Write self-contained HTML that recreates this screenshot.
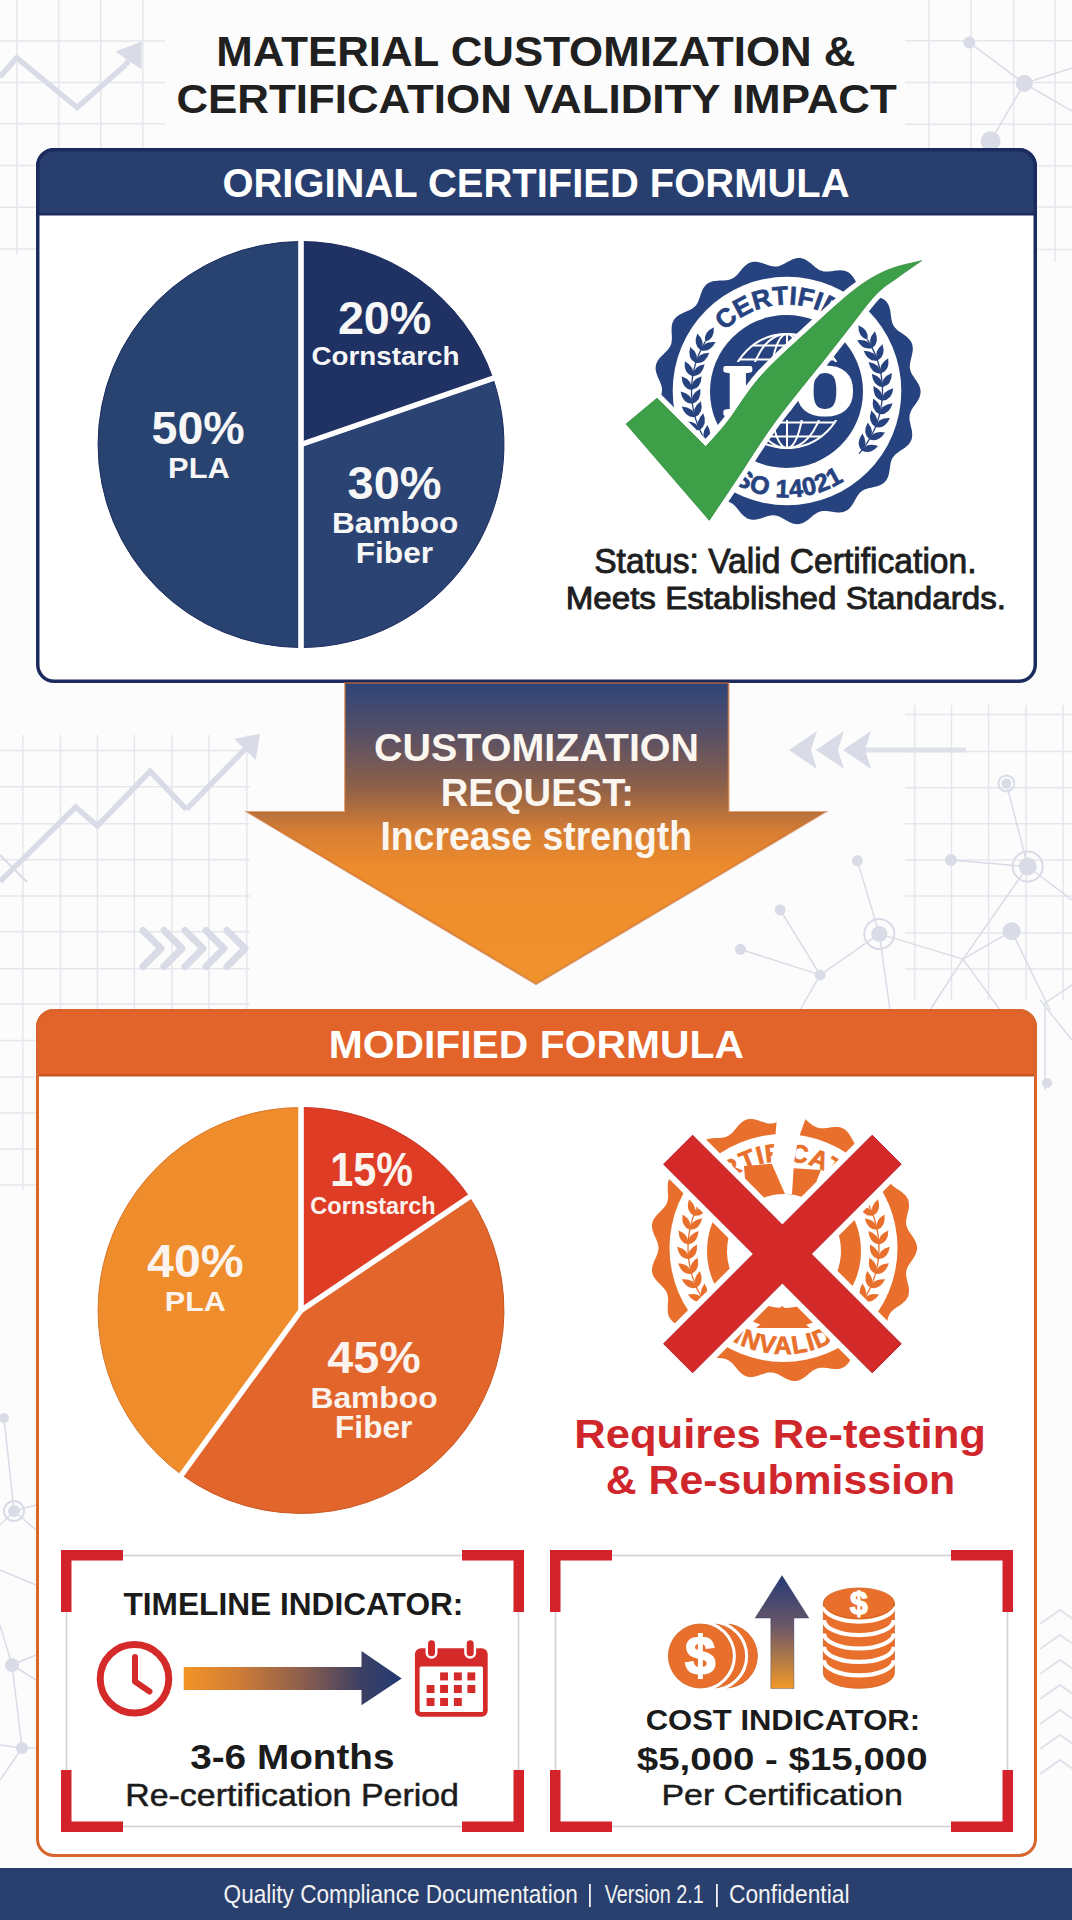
<!DOCTYPE html>
<html><head><meta charset="utf-8"><title>Material Customization &amp; Certification Validity Impact</title>
<style>html,body{margin:0;padding:0;background:#fcfcfc;} body{width:1072px;height:1920px;overflow:hidden;}</style>
</head><body>
<svg width="1072" height="1920" viewBox="0 0 1072 1920" style="display:block;font-family:'Liberation Sans', Arial, sans-serif"><defs>
<linearGradient id="gArrow" x1="0" y1="683" x2="0" y2="984" gradientUnits="userSpaceOnUse">
 <stop offset="0" stop-color="#2e4379"/>
 <stop offset="0.18" stop-color="#5a5164"/>
 <stop offset="0.35" stop-color="#8f6148"/>
 <stop offset="0.50" stop-color="#d97f33"/>
 <stop offset="0.62" stop-color="#ee8c2d"/>
 <stop offset="1" stop-color="#f0922c"/>
</linearGradient>
<linearGradient id="gTime" x1="184" y1="0" x2="402" y2="0" gradientUnits="userSpaceOnUse">
 <stop offset="0" stop-color="#f39426"/>
 <stop offset="0.25" stop-color="#d07c36"/>
 <stop offset="0.55" stop-color="#8a5e4e"/>
 <stop offset="0.8" stop-color="#3f4163"/>
 <stop offset="1" stop-color="#213a74"/>
</linearGradient>
<linearGradient id="gCost" x1="0" y1="1576" x2="0" y2="1689" gradientUnits="userSpaceOnUse">
 <stop offset="0" stop-color="#263a74"/>
 <stop offset="0.45" stop-color="#6c5868"/>
 <stop offset="1" stop-color="#f39a26"/>
</linearGradient>
<clipPath id="cTop"><rect x="36" y="148" width="1001" height="535" rx="18"/></clipPath>
<clipPath id="cBot"><rect x="36" y="1009" width="1001" height="848" rx="18"/></clipPath>
</defs>
<rect width="1072" height="1920" fill="#fcfcfc"/>
<line x1="16.8" y1="0" x2="16.8" y2="255" stroke="#e6e7ee" stroke-width="1.5"/><line x1="58.7" y1="0" x2="58.7" y2="255" stroke="#e6e7ee" stroke-width="1.5"/><line x1="100.7" y1="0" x2="100.7" y2="255" stroke="#e6e7ee" stroke-width="1.5"/><line x1="142.8" y1="0" x2="142.8" y2="255" stroke="#e6e7ee" stroke-width="1.5"/><line x1="0" y1="41" x2="165" y2="41" stroke="#e6e7ee" stroke-width="1.5"/><line x1="0" y1="82.4" x2="165" y2="82.4" stroke="#e6e7ee" stroke-width="1.5"/><line x1="0" y1="123.8" x2="165" y2="123.8" stroke="#e6e7ee" stroke-width="1.5"/><line x1="0" y1="165.5" x2="165" y2="165.5" stroke="#e6e7ee" stroke-width="1.5"/><line x1="0" y1="207.2" x2="165" y2="207.2" stroke="#e6e7ee" stroke-width="1.5"/><line x1="0" y1="249" x2="165" y2="249" stroke="#e6e7ee" stroke-width="1.5"/><polyline points="0,77 16.8,57.8 77.2,107.5 125.4,65" fill="none" stroke="#d9dce6" stroke-width="5.5" stroke-linejoin="miter"/><line x1="125.4" y1="65" x2="128.5" y2="60.5" stroke="#d9dce6" stroke-width="5.5"/><path d="M141.5,41.4 L141.5,69.4 L115.5,51.6 Z" fill="#d9dce6"/><line x1="928.9" y1="0" x2="928.9" y2="262" stroke="#e6e7ee" stroke-width="1.5"/><line x1="971.1" y1="0" x2="971.1" y2="262" stroke="#e6e7ee" stroke-width="1.5"/><line x1="1013.6" y1="0" x2="1013.6" y2="262" stroke="#e6e7ee" stroke-width="1.5"/><line x1="1055" y1="0" x2="1055" y2="262" stroke="#e6e7ee" stroke-width="1.5"/><line x1="905" y1="40.8" x2="1072" y2="40.8" stroke="#e6e7ee" stroke-width="1.5"/><line x1="905" y1="82.4" x2="1072" y2="82.4" stroke="#e6e7ee" stroke-width="1.5"/><line x1="905" y1="124.2" x2="1072" y2="124.2" stroke="#e6e7ee" stroke-width="1.5"/><line x1="905" y1="165.7" x2="1072" y2="165.7" stroke="#e6e7ee" stroke-width="1.5"/><line x1="905" y1="207.1" x2="1072" y2="207.1" stroke="#e6e7ee" stroke-width="1.5"/><line x1="905" y1="249.5" x2="1072" y2="249.5" stroke="#e6e7ee" stroke-width="1.5"/><line x1="969.3" y1="42.5" x2="1024.3" y2="83.4" stroke="#d9dce6" stroke-width="1.5"/><line x1="1024.3" y1="83.4" x2="1072" y2="68" stroke="#d9dce6" stroke-width="1.5"/><line x1="1024.3" y1="83.4" x2="1072" y2="111" stroke="#d9dce6" stroke-width="1.5"/><line x1="1024.3" y1="83.4" x2="990.6" y2="141.2" stroke="#d9dce6" stroke-width="1.5"/><circle cx="969.3" cy="42.5" r="6" fill="#d9dce6"/><circle cx="1024.3" cy="83.4" r="8.5" fill="#d9dce6"/><circle cx="990.6" cy="141.2" r="10" fill="#d9dce6"/><line x1="22.8" y1="735" x2="22.8" y2="1190" stroke="#e6e7ee" stroke-width="1.5"/><line x1="60.4" y1="735" x2="60.4" y2="1190" stroke="#e6e7ee" stroke-width="1.5"/><line x1="97.4" y1="735" x2="97.4" y2="1190" stroke="#e6e7ee" stroke-width="1.5"/><line x1="134.3" y1="735" x2="134.3" y2="1190" stroke="#e6e7ee" stroke-width="1.5"/><line x1="171.9" y1="735" x2="171.9" y2="1190" stroke="#e6e7ee" stroke-width="1.5"/><line x1="208.9" y1="735" x2="208.9" y2="1190" stroke="#e6e7ee" stroke-width="1.5"/><line x1="246.8" y1="735" x2="246.8" y2="1190" stroke="#e6e7ee" stroke-width="1.5"/><line x1="0" y1="750.5" x2="250" y2="750.5" stroke="#e6e7ee" stroke-width="1.5"/><line x1="0" y1="786.8" x2="250" y2="786.8" stroke="#e6e7ee" stroke-width="1.5"/><line x1="0" y1="823.7" x2="250" y2="823.7" stroke="#e6e7ee" stroke-width="1.5"/><line x1="0" y1="859.7" x2="250" y2="859.7" stroke="#e6e7ee" stroke-width="1.5"/><line x1="0" y1="895.9" x2="250" y2="895.9" stroke="#e6e7ee" stroke-width="1.5"/><line x1="0" y1="931.8" x2="250" y2="931.8" stroke="#e6e7ee" stroke-width="1.5"/><line x1="0" y1="968.8" x2="250" y2="968.8" stroke="#e6e7ee" stroke-width="1.5"/><line x1="0" y1="1004" x2="250" y2="1004" stroke="#e6e7ee" stroke-width="1.5"/><line x1="0" y1="1040.6" x2="250" y2="1040.6" stroke="#e6e7ee" stroke-width="1.5"/><line x1="0" y1="1077" x2="250" y2="1077" stroke="#e6e7ee" stroke-width="1.5"/><line x1="0" y1="1113" x2="250" y2="1113" stroke="#e6e7ee" stroke-width="1.5"/><line x1="0" y1="1149" x2="250" y2="1149" stroke="#e6e7ee" stroke-width="1.5"/><line x1="0" y1="1185" x2="250" y2="1185" stroke="#e6e7ee" stroke-width="1.5"/><polyline points="0,881.5 75.6,807 97.4,826 150.1,771.3 186.4,809.3" fill="none" stroke="#d9dce6" stroke-width="5.5" stroke-linejoin="miter"/><line x1="186.4" y1="809.3" x2="244.8" y2="749.4" stroke="#d9dce6" stroke-width="5.5"/><path d="M260.2,733.7 L255.6,759.9 L234.1,739.0 Z" fill="#d9dce6"/><line x1="0" y1="855" x2="27" y2="882" stroke="#d9dce6" stroke-width="2"/><polyline points="143,930.5 161.0,948.5 143,966.5" fill="none" stroke="#d9dce6" stroke-width="7" stroke-linecap="round" stroke-linejoin="round"/><polyline points="164,930.5 182.0,948.5 164,966.5" fill="none" stroke="#d9dce6" stroke-width="7" stroke-linecap="round" stroke-linejoin="round"/><polyline points="185,930.5 203.0,948.5 185,966.5" fill="none" stroke="#d9dce6" stroke-width="7" stroke-linecap="round" stroke-linejoin="round"/><polyline points="206,930.5 224.0,948.5 206,966.5" fill="none" stroke="#d9dce6" stroke-width="7" stroke-linecap="round" stroke-linejoin="round"/><polyline points="227,930.5 245.0,948.5 227,966.5" fill="none" stroke="#d9dce6" stroke-width="7" stroke-linecap="round" stroke-linejoin="round"/><line x1="914.7" y1="705" x2="914.7" y2="1000" stroke="#e6e7ee" stroke-width="1.5"/><line x1="951.5" y1="705" x2="951.5" y2="1000" stroke="#e6e7ee" stroke-width="1.5"/><line x1="988.6" y1="705" x2="988.6" y2="1000" stroke="#e6e7ee" stroke-width="1.5"/><line x1="1026" y1="705" x2="1026" y2="1000" stroke="#e6e7ee" stroke-width="1.5"/><line x1="1063.2" y1="705" x2="1063.2" y2="1000" stroke="#e6e7ee" stroke-width="1.5"/><line x1="905" y1="714.5" x2="1072" y2="714.5" stroke="#e6e7ee" stroke-width="1.5"/><line x1="905" y1="751.6" x2="1072" y2="751.6" stroke="#e6e7ee" stroke-width="1.5"/><line x1="905" y1="787.7" x2="1072" y2="787.7" stroke="#e6e7ee" stroke-width="1.5"/><line x1="905" y1="823.8" x2="1072" y2="823.8" stroke="#e6e7ee" stroke-width="1.5"/><line x1="905" y1="860" x2="1072" y2="860" stroke="#e6e7ee" stroke-width="1.5"/><line x1="905" y1="896" x2="1072" y2="896" stroke="#e6e7ee" stroke-width="1.5"/><line x1="905" y1="932.9" x2="1072" y2="932.9" stroke="#e6e7ee" stroke-width="1.5"/><line x1="905" y1="969" x2="1072" y2="969" stroke="#e6e7ee" stroke-width="1.5"/><line x1="860" y1="750" x2="966" y2="750" stroke="#dfe1e8" stroke-width="5"/><path d="M789,750 L817,731 L811,750 L817,769 Z" fill="#d9dce6"/><path d="M816,750 L844,731 L838,750 L844,769 Z" fill="#d9dce6"/><path d="M843,750 L871,731 L865,750 L871,769 Z" fill="#d9dce6"/><line x1="1006.4" y1="783.4" x2="1027.7" y2="866.5" stroke="#d9dce6" stroke-width="1.5"/><line x1="950.9" y1="860" x2="1027.7" y2="866.5" stroke="#d9dce6" stroke-width="1.5"/><line x1="1027.7" y1="866.5" x2="963" y2="959.1" stroke="#d9dce6" stroke-width="1.5"/><line x1="1027.7" y1="866.5" x2="1072" y2="900" stroke="#d9dce6" stroke-width="1.5"/><line x1="857.3" y1="860.6" x2="879.3" y2="933.9" stroke="#d9dce6" stroke-width="1.5"/><line x1="780.1" y1="909.9" x2="820.2" y2="974.9" stroke="#d9dce6" stroke-width="1.5"/><line x1="740.4" y1="949.3" x2="820.2" y2="974.9" stroke="#d9dce6" stroke-width="1.5"/><line x1="820.2" y1="974.9" x2="879.3" y2="933.9" stroke="#d9dce6" stroke-width="1.5"/><line x1="879.3" y1="933.9" x2="963" y2="959.1" stroke="#d9dce6" stroke-width="1.5"/><line x1="1011.6" y1="931.2" x2="963" y2="959.1" stroke="#d9dce6" stroke-width="1.5"/><line x1="963" y1="959.1" x2="1000" y2="1010" stroke="#d9dce6" stroke-width="1.5"/><line x1="879.3" y1="933.9" x2="890" y2="1010" stroke="#d9dce6" stroke-width="1.5"/><line x1="820.2" y1="974.9" x2="800" y2="1010" stroke="#d9dce6" stroke-width="1.5"/><line x1="963" y1="959.1" x2="930" y2="1010" stroke="#d9dce6" stroke-width="1.5"/><line x1="1011.6" y1="931.2" x2="1050" y2="1010" stroke="#d9dce6" stroke-width="1.5"/><circle cx="1006.4" cy="783.4" r="5" fill="#d9dce6"/><circle cx="1006.4" cy="783.4" r="8" fill="none" stroke="#d9dce6" stroke-width="2"/><circle cx="1027.7" cy="866.5" r="9" fill="#d9dce6"/><circle cx="1027.7" cy="866.5" r="15" fill="none" stroke="#d9dce6" stroke-width="2"/><circle cx="950.9" cy="860" r="6" fill="#d9dce6"/><circle cx="879.3" cy="933.9" r="8" fill="#d9dce6"/><circle cx="879.3" cy="933.9" r="15" fill="none" stroke="#d9dce6" stroke-width="2"/><circle cx="857.3" cy="860.6" r="5.5" fill="#d9dce6"/><circle cx="780.1" cy="909.9" r="5.5" fill="#d9dce6"/><circle cx="740.4" cy="949.3" r="5.5" fill="#d9dce6"/><circle cx="820.2" cy="974.9" r="5.5" fill="#d9dce6"/><circle cx="1011.6" cy="931.2" r="9" fill="#d9dce6"/><line x1="1040" y1="1000" x2="1072" y2="1040" stroke="#d9dce6" stroke-width="1.5"/><line x1="1045" y1="1003" x2="1045" y2="1090" stroke="#d9dce6" stroke-width="1.5"/><line x1="1045" y1="1003" x2="1072" y2="985" stroke="#d9dce6" stroke-width="1.5"/><circle cx="1047" cy="1083" r="5" fill="#d9dce6"/><line x1="4" y1="1418" x2="14" y2="1511" stroke="#d9dce6" stroke-width="1.5"/><line x1="14" y1="1511" x2="36" y2="1505" stroke="#d9dce6" stroke-width="1.5"/><line x1="14" y1="1511" x2="36" y2="1530" stroke="#d9dce6" stroke-width="1.5"/><line x1="0" y1="1525" x2="14" y2="1511" stroke="#d9dce6" stroke-width="1.5"/><line x1="0" y1="1570" x2="36" y2="1585" stroke="#d9dce6" stroke-width="1.5"/><line x1="0" y1="1625" x2="12" y2="1665" stroke="#d9dce6" stroke-width="1.5"/><line x1="12" y1="1665" x2="36" y2="1655" stroke="#d9dce6" stroke-width="1.5"/><line x1="12" y1="1665" x2="36" y2="1680" stroke="#d9dce6" stroke-width="1.5"/><line x1="12" y1="1665" x2="22" y2="1748" stroke="#d9dce6" stroke-width="1.5"/><line x1="0" y1="1745" x2="22" y2="1748" stroke="#d9dce6" stroke-width="1.5"/><line x1="22" y1="1748" x2="0" y2="1780" stroke="#d9dce6" stroke-width="1.5"/><line x1="22" y1="1748" x2="36" y2="1748" stroke="#d9dce6" stroke-width="1.5"/><circle cx="4" cy="1418" r="5" fill="#d9dce6"/><circle cx="14" cy="1511" r="6" fill="#d9dce6"/><circle cx="14" cy="1511" r="10" fill="none" stroke="#d9dce6" stroke-width="2"/><circle cx="12" cy="1665" r="7" fill="#d9dce6"/><circle cx="22" cy="1748" r="6" fill="#d9dce6"/><polyline points="1040,1624 1060,1610 1080,1624" fill="none" stroke="#e0e2e9" stroke-width="2"/><polyline points="1040,1649 1060,1635 1080,1649" fill="none" stroke="#e0e2e9" stroke-width="2"/><polyline points="1040,1674 1060,1660 1080,1674" fill="none" stroke="#e0e2e9" stroke-width="2"/><polyline points="1040,1699 1060,1685 1080,1699" fill="none" stroke="#e0e2e9" stroke-width="2"/><polyline points="1040,1724 1060,1710 1080,1724" fill="none" stroke="#e0e2e9" stroke-width="2"/><polyline points="1040,1749 1060,1735 1080,1749" fill="none" stroke="#e0e2e9" stroke-width="2"/><polyline points="1040,1774 1060,1760 1080,1774" fill="none" stroke="#e0e2e9" stroke-width="2"/>
<text x="216.3" y="66.4" font-size="42.04" font-weight="700" textLength="639.1" lengthAdjust="spacingAndGlyphs" fill="#202020" >MATERIAL CUSTOMIZATION &amp;</text>
<text x="176.4" y="112.9" font-size="41.45" font-weight="700" textLength="720.4" lengthAdjust="spacingAndGlyphs" fill="#202020" >CERTIFICATION VALIDITY IMPACT</text>
<g clip-path="url(#cTop)"><rect x="36" y="148" width="1001" height="535" fill="#ffffff"/><rect x="36" y="148" width="1001" height="67" fill="#273e6e"/><rect x="36" y="213" width="1001" height="2.5" fill="#1b2a5a"/></g>
<rect x="37.75" y="149.75" width="997.5" height="531.5" rx="16.5" fill="none" stroke="#1c2b5e" stroke-width="3.5"/>
<text x="222.4" y="197.3" font-size="40.44" font-weight="700" textLength="627.1" lengthAdjust="spacingAndGlyphs" fill="#ffffff" >ORIGINAL CERTIFIED FORMULA</text>
<path d="M301,444.5 L301,647.5 A203,203 0 0 1 301,241.5 Z" fill="#294370" stroke="#1a2a5e" stroke-width="1"/>
<path d="M301,444.5 L301,241.5 A203,203 0 0 1 492.9,378.4 Z" fill="#1f3263" stroke="#1a2a5e" stroke-width="1"/>
<path d="M301,444.5 L492.9,378.4 A203,203 0 0 1 301,647.5 Z" fill="#2a4372" stroke="#1a2a5e" stroke-width="1"/>
<rect x="298.2" y="238.5" width="5.6" height="412" fill="#ffffff"/>
<line x1="301" y1="444.5" x2="495.8" y2="377.4" stroke="#ffffff" stroke-width="5.5"/>
<text x="337.9" y="334" font-size="46.16" font-weight="700" textLength="93.5" lengthAdjust="spacingAndGlyphs" fill="#f7f7f7" >20%</text>
<text x="311.5" y="364.7" font-size="26.62" font-weight="700" textLength="148.0" lengthAdjust="spacingAndGlyphs" fill="#f7f7f7" >Cornstarch</text>
<text x="151.5" y="444.2" font-size="46.45" font-weight="700" textLength="93.2" lengthAdjust="spacingAndGlyphs" fill="#f7f7f7" >50%</text>
<text x="168.1" y="478.4" font-size="29.38" font-weight="700" textLength="61.7" lengthAdjust="spacingAndGlyphs" fill="#f7f7f7" >PLA</text>
<text x="347.6" y="499.1" font-size="46.16" font-weight="700" textLength="93.9" lengthAdjust="spacingAndGlyphs" fill="#f7f7f7" >30%</text>
<text x="331.9" y="533.4" font-size="28.97" font-weight="700" textLength="126.4" lengthAdjust="spacingAndGlyphs" fill="#f7f7f7" >Bamboo</text>
<text x="355.7" y="563.4" font-size="29.93" font-weight="700" textLength="77.4" lengthAdjust="spacingAndGlyphs" fill="#f7f7f7" >Fiber</text>
<path d="M787.0,262.2 L788.1,261.6 L789.3,261.0 L790.4,260.4 L791.6,259.8 L792.7,259.3 L793.9,258.9 L795.1,258.5 L796.3,258.3 L797.5,258.1 L798.6,258.0 L799.8,258.0 L801.0,258.1 L802.1,258.4 L803.2,258.7 L804.4,259.1 L805.5,259.7 L806.5,260.3 L807.6,260.9 L808.6,261.7 L809.7,262.4 L810.7,263.3 L811.7,264.1 L812.6,264.9 L813.6,265.8 L814.6,266.6 L815.5,267.4 L816.5,268.1 L817.5,268.8 L818.4,269.4 L819.4,270.0 L820.4,270.4 L821.5,270.8 L822.5,271.1 L823.6,271.4 L824.7,271.5 L825.8,271.6 L826.9,271.6 L828.1,271.6 L829.3,271.5 L830.6,271.3 L831.8,271.2 L833.1,271.0 L834.4,270.8 L835.6,270.6 L836.9,270.5 L838.2,270.4 L839.5,270.3 L840.7,270.3 L842.0,270.4 L843.2,270.5 L844.4,270.7 L845.5,271.0 L846.6,271.5 L847.7,272.0 L848.7,272.6 L849.6,273.2 L850.5,274.0 L851.4,274.9 L852.2,275.8 L852.9,276.8 L853.7,277.8 L854.3,278.9 L855.0,280.0 L855.6,281.2 L856.2,282.3 L856.8,283.4 L857.4,284.6 L858.1,285.7 L858.7,286.7 L859.3,287.7 L860.0,288.7 L860.7,289.6 L861.5,290.4 L862.3,291.1 L863.1,291.8 L864.0,292.5 L864.9,293.0 L865.9,293.5 L867.0,294.0 L868.1,294.4 L869.2,294.7 L870.4,295.0 L871.6,295.3 L872.9,295.6 L874.1,295.9 L875.4,296.2 L876.7,296.5 L877.9,296.9 L879.1,297.3 L880.3,297.7 L881.5,298.2 L882.6,298.7 L883.6,299.3 L884.6,300.0 L885.5,300.8 L886.3,301.6 L887.0,302.5 L887.7,303.5 L888.3,304.5 L888.8,305.6 L889.2,306.7 L889.6,307.9 L889.9,309.1 L890.2,310.4 L890.4,311.6 L890.6,312.9 L890.8,314.2 L890.9,315.5 L891.1,316.8 L891.3,318.0 L891.4,319.2 L891.7,320.4 L891.9,321.5 L892.3,322.6 L892.6,323.7 L893.1,324.7 L893.6,325.7 L894.2,326.6 L894.8,327.5 L895.6,328.3 L896.4,329.1 L897.2,329.9 L898.1,330.7 L899.1,331.4 L900.1,332.1 L901.2,332.8 L902.2,333.6 L903.3,334.3 L904.4,335.0 L905.4,335.8 L906.4,336.6 L907.4,337.4 L908.3,338.3 L909.1,339.2 L909.9,340.1 L910.6,341.1 L911.2,342.1 L911.7,343.1 L912.1,344.2 L912.4,345.3 L912.6,346.5 L912.8,347.7 L912.8,348.9 L912.8,350.1 L912.6,351.4 L912.4,352.6 L912.2,353.9 L911.9,355.2 L911.6,356.4 L911.3,357.7 L911.0,358.9 L910.7,360.2 L910.4,361.4 L910.2,362.6 L910.0,363.7 L909.9,364.9 L909.8,366.0 L909.8,367.1 L909.9,368.2 L910.1,369.3 L910.4,370.4 L910.7,371.4 L911.1,372.4 L911.6,373.5 L912.2,374.5 L912.8,375.5 L913.5,376.6 L914.2,377.6 L914.9,378.7 L915.7,379.7 L916.4,380.8 L917.1,381.9 L917.8,383.0 L918.4,384.1 L919.0,385.2 L919.5,386.4 L919.9,387.5 L920.2,388.7 L920.4,389.8 L920.6,391.0 L920.6,392.2 L920.5,393.3 L920.3,394.5 L920.0,395.6 L919.7,396.8 L919.2,397.9 L918.7,399.1 L918.1,400.2 L917.4,401.3 L916.7,402.3 L916.0,403.4 L915.2,404.5 L914.5,405.5 L913.7,406.6 L913.0,407.6 L912.4,408.6 L911.7,409.6 L911.2,410.7 L910.7,411.7 L910.3,412.7 L910.0,413.8 L909.7,414.9 L909.5,415.9 L909.5,417.0 L909.5,418.1 L909.5,419.3 L909.7,420.4 L909.8,421.6 L910.1,422.8 L910.4,424.1 L910.6,425.3 L910.9,426.5 L911.2,427.8 L911.5,429.1 L911.8,430.3 L912.0,431.6 L912.1,432.9 L912.2,434.1 L912.2,435.3 L912.1,436.5 L911.9,437.7 L911.7,438.9 L911.3,440.0 L910.8,441.0 L910.3,442.1 L909.6,443.1 L908.9,444.0 L908.1,444.9 L907.2,445.8 L906.2,446.6 L905.2,447.4 L904.2,448.2 L903.1,448.9 L902.1,449.6 L901.0,450.3 L899.9,451.0 L898.9,451.7 L897.9,452.5 L896.9,453.2 L896.0,453.9 L895.1,454.7 L894.4,455.5 L893.7,456.4 L893.0,457.2 L892.4,458.2 L891.9,459.2 L891.5,460.2 L891.1,461.2 L890.8,462.4 L890.6,463.5 L890.3,464.7 L890.1,465.9 L890.0,467.2 L889.8,468.5 L889.6,469.7 L889.4,471.0 L889.2,472.3 L889.0,473.6 L888.7,474.8 L888.3,476.0 L887.9,477.2 L887.4,478.3 L886.8,479.3 L886.2,480.3 L885.5,481.3 L884.7,482.1 L883.8,482.9 L882.9,483.6 L881.9,484.2 L880.8,484.8 L879.7,485.3 L878.5,485.8 L877.3,486.2 L876.1,486.5 L874.8,486.8 L873.6,487.1 L872.3,487.4 L871.0,487.7 L869.8,488.0 L868.6,488.2 L867.4,488.6 L866.3,488.9 L865.2,489.3 L864.2,489.8 L863.2,490.3 L862.2,490.8 L861.4,491.5 L860.5,492.2 L859.7,493.0 L859.0,493.8 L858.3,494.7 L857.6,495.7 L857.0,496.7 L856.3,497.8 L855.7,498.9 L855.1,500.0 L854.5,501.1 L853.8,502.2 L853.2,503.3 L852.5,504.4 L851.8,505.5 L851.0,506.5 L850.2,507.5 L849.4,508.4 L848.5,509.2 L847.6,509.9 L846.6,510.5 L845.6,511.1 L844.5,511.5 L843.4,511.9 L842.2,512.2 L841.0,512.3 L839.8,512.4 L838.6,512.4 L837.3,512.4 L836.0,512.3 L834.7,512.2 L833.4,512.0 L832.2,511.8 L830.9,511.6 L829.6,511.4 L828.4,511.2 L827.2,511.1 L826.0,511.0 L824.8,510.9 L823.7,510.9 L822.6,511.0 L821.5,511.2 L820.4,511.5 L819.4,511.8 L818.3,512.2 L817.3,512.7 L816.3,513.2 L815.4,513.9 L814.4,514.6 L813.4,515.3 L812.5,516.1 L811.5,516.9 L810.5,517.7 L809.5,518.6 L808.5,519.4 L807.5,520.2 L806.4,520.9 L805.4,521.6 L804.3,522.2 L803.2,522.8 L802.1,523.3 L800.9,523.6 L799.8,523.9 L798.6,524.1 L797.5,524.2 L796.3,524.1 L795.1,524.0 L794.0,523.8 L792.8,523.4 L791.6,523.0 L790.4,522.6 L789.3,522.0 L788.1,521.4 L787.0,520.8 L785.9,520.2 L784.8,519.5 L783.7,518.9 L782.6,518.3 L781.5,517.7 L780.4,517.1 L779.3,516.6 L778.2,516.2 L777.2,515.9 L776.1,515.6 L775.0,515.4 L773.9,515.3 L772.8,515.3 L771.7,515.4 L770.6,515.5 L769.5,515.7 L768.3,516.0 L767.1,516.3 L766.0,516.7 L764.8,517.1 L763.6,517.5 L762.3,517.9 L761.1,518.3 L759.9,518.7 L758.6,519.1 L757.4,519.3 L756.1,519.6 L754.9,519.7 L753.7,519.8 L752.5,519.8 L751.3,519.6 L750.2,519.4 L749.1,519.1 L748.0,518.7 L746.9,518.2 L745.9,517.5 L744.9,516.8 L743.9,516.1 L743.0,515.2 L742.1,514.3 L741.2,513.4 L740.4,512.4 L739.6,511.4 L738.8,510.4 L738.0,509.4 L737.2,508.4 L736.4,507.4 L735.6,506.5 L734.7,505.7 L733.9,504.9 L733.0,504.1 L732.1,503.5 L731.2,502.9 L730.2,502.4 L729.2,501.9 L728.2,501.6 L727.1,501.3 L726.0,501.1 L724.8,500.9 L723.6,500.7 L722.4,500.7 L721.2,500.6 L719.9,500.5 L718.6,500.5 L717.3,500.4 L716.0,500.3 L714.7,500.2 L713.5,500.0 L712.2,499.8 L711.0,499.5 L709.8,499.2 L708.7,498.8 L707.6,498.3 L706.6,497.7 L705.7,497.0 L704.8,496.2 L704.0,495.4 L703.2,494.5 L702.5,493.5 L701.9,492.5 L701.3,491.3 L700.8,490.2 L700.3,489.0 L699.8,487.8 L699.4,486.6 L699.0,485.3 L698.6,484.1 L698.3,482.9 L697.9,481.7 L697.5,480.5 L697.0,479.4 L696.5,478.4 L696.0,477.4 L695.4,476.4 L694.8,475.5 L694.1,474.6 L693.4,473.9 L692.5,473.1 L691.7,472.4 L690.7,471.8 L689.7,471.2 L688.7,470.6 L687.6,470.1 L686.4,469.6 L685.3,469.1 L684.1,468.6 L682.9,468.0 L681.7,467.5 L680.6,466.9 L679.4,466.3 L678.3,465.7 L677.3,465.0 L676.3,464.3 L675.4,463.5 L674.5,462.7 L673.8,461.8 L673.1,460.8 L672.5,459.8 L672.0,458.7 L671.6,457.6 L671.3,456.5 L671.0,455.3 L670.9,454.1 L670.8,452.8 L670.7,451.5 L670.7,450.2 L670.8,448.9 L670.9,447.6 L670.9,446.4 L671.0,445.1 L671.1,443.8 L671.1,442.6 L671.1,441.4 L671.1,440.2 L671.0,439.0 L670.8,437.9 L670.6,436.8 L670.3,435.8 L669.9,434.8 L669.4,433.8 L668.9,432.8 L668.3,431.9 L667.6,431.0 L666.8,430.1 L666.0,429.2 L665.1,428.3 L664.3,427.4 L663.3,426.5 L662.4,425.5 L661.5,424.6 L660.6,423.7 L659.8,422.7 L659.0,421.7 L658.2,420.7 L657.5,419.7 L656.9,418.7 L656.4,417.6 L656.0,416.5 L655.7,415.3 L655.4,414.2 L655.3,413.0 L655.3,411.9 L655.4,410.7 L655.6,409.5 L655.8,408.3 L656.2,407.1 L656.6,405.9 L657.0,404.7 L657.5,403.5 L658.1,402.3 L658.6,401.1 L659.1,399.9 L659.7,398.8 L660.2,397.6 L660.6,396.5 L661.0,395.4 L661.4,394.3 L661.7,393.2 L661.9,392.1 L662.0,391.0 L662.0,389.9 L662.0,388.8 L661.8,387.7 L661.6,386.6 L661.3,385.5 L661.0,384.4 L660.5,383.3 L660.1,382.1 L659.6,381.0 L659.1,379.8 L658.5,378.6 L658.0,377.4 L657.5,376.2 L657.1,375.0 L656.6,373.8 L656.3,372.6 L656.0,371.4 L655.8,370.2 L655.6,369.0 L655.6,367.8 L655.7,366.7 L655.9,365.5 L656.1,364.4 L656.5,363.3 L657.0,362.2 L657.5,361.1 L658.2,360.1 L658.9,359.1 L659.7,358.1 L660.6,357.1 L661.4,356.2 L662.4,355.3 L663.3,354.4 L664.2,353.5 L665.1,352.6 L666.0,351.7 L666.9,350.8 L667.7,349.9 L668.4,349.0 L669.1,348.1 L669.7,347.1 L670.2,346.2 L670.7,345.2 L671.1,344.2 L671.4,343.1 L671.6,342.0 L671.7,340.9 L671.8,339.7 L671.9,338.5 L671.9,337.3 L671.8,336.1 L671.8,334.8 L671.7,333.5 L671.6,332.2 L671.6,330.9 L671.6,329.6 L671.6,328.3 L671.7,327.1 L671.8,325.8 L672.0,324.6 L672.3,323.5 L672.7,322.3 L673.2,321.2 L673.7,320.2 L674.3,319.2 L675.1,318.3 L675.9,317.4 L676.8,316.6 L677.7,315.9 L678.7,315.2 L679.8,314.5 L680.9,313.9 L682.1,313.4 L683.3,312.8 L684.5,312.3 L685.7,311.8 L686.8,311.3 L688.0,310.8 L689.1,310.3 L690.2,309.8 L691.2,309.2 L692.2,308.6 L693.2,308.0 L694.0,307.3 L694.8,306.5 L695.6,305.7 L696.3,304.9 L696.9,304.0 L697.4,303.0 L698.0,302.0 L698.4,300.9 L698.9,299.8 L699.3,298.6 L699.7,297.4 L700.1,296.2 L700.5,295.0 L700.9,293.7 L701.4,292.5 L701.9,291.3 L702.4,290.1 L702.9,289.0 L703.5,287.9 L704.2,286.9 L705.0,286.0 L705.8,285.1 L706.6,284.3 L707.5,283.6 L708.5,283.0 L709.6,282.4 L710.7,282.0 L711.8,281.6 L713.0,281.3 L714.2,281.1 L715.5,280.9 L716.8,280.8 L718.1,280.7 L719.4,280.6 L720.6,280.6 L721.9,280.5 L723.2,280.5 L724.4,280.4 L725.7,280.3 L726.8,280.2 L728.0,280.0 L729.1,279.8 L730.2,279.5 L731.2,279.1 L732.2,278.6 L733.2,278.1 L734.1,277.5 L735.0,276.8 L735.8,276.1 L736.7,275.3 L737.5,274.4 L738.3,273.5 L739.1,272.5 L739.9,271.5 L740.8,270.6 L741.6,269.6 L742.4,268.6 L743.3,267.6 L744.2,266.7 L745.1,265.8 L746.1,265.0 L747.1,264.3 L748.1,263.6 L749.1,263.1 L750.2,262.6 L751.3,262.3 L752.4,262.0 L753.6,261.8 L754.8,261.8 L756.0,261.8 L757.2,261.9 L758.4,262.1 L759.7,262.4 L760.9,262.7 L762.1,263.1 L763.4,263.5 L764.6,263.9 L765.8,264.3 L767.0,264.8 L768.2,265.2 L769.4,265.5 L770.5,265.9 L771.7,266.1 L772.8,266.3 L773.9,266.5 L775.0,266.5 L776.1,266.5 L777.2,266.4 L778.3,266.2 L779.3,265.9 L780.4,265.5 L781.5,265.1 L782.6,264.6 L783.7,264.0 L784.8,263.5 L785.9,262.8Z" fill="#27437f"/><circle cx="787" cy="391" r="114.3" fill="#ffffff"/><circle cx="786.5" cy="391.5" r="76.5" fill="#27437f"/><circle cx="787" cy="391" r="57" fill="none" stroke="#ffffff" stroke-width="2"/><ellipse cx="787" cy="391" rx="17.1" ry="57" fill="none" stroke="#ffffff" stroke-width="2"/><ellipse cx="787" cy="391" rx="37.1" ry="57" fill="none" stroke="#ffffff" stroke-width="2"/><line x1="787" y1="334" x2="787" y2="448" stroke="#ffffff" stroke-width="2"/><line x1="752.8" y1="345.4" x2="821.2" y2="345.4" stroke="#ffffff" stroke-width="2"/><line x1="739.4" y1="359.6" x2="834.6" y2="359.6" stroke="#ffffff" stroke-width="2"/><line x1="739.4" y1="422.4" x2="834.6" y2="422.4" stroke="#ffffff" stroke-width="2"/><line x1="752.8" y1="436.6" x2="821.2" y2="436.6" stroke="#ffffff" stroke-width="2"/><rect x="722" y="362" width="132" height="58" fill="#27437f"/><text font-family="Liberation Serif, serif" x="723" y="414" font-size="70.23" font-weight="700" textLength="131.5" lengthAdjust="spacingAndGlyphs" fill="#ffffff" stroke="#ffffff" stroke-width="4" stroke-linejoin="round">ISO</text><path id="arcTop" d="M700.5,391 A86.5,86.5 0 0 1 873.5,391" fill="none"/><text font-size="26" font-weight="700" fill="#27437f" stroke="#27437f" stroke-width="0.7" letter-spacing="0.2"><textPath href="#arcTop" startOffset="50%" text-anchor="middle">CERTIFIED</textPath></text><path id="arcBot" d="M680.5,391 A106.5,106.5 0 0 0 893.5,391" fill="none"/><text font-size="25" font-weight="700" fill="#27437f" stroke="#27437f" stroke-width="0.7" letter-spacing="0.6"><textPath href="#arcBot" startOffset="49.5%" text-anchor="middle">ISO 14021</textPath></text><path d="M859.1,453.7 L862.9,448.9 L866.5,443.9 L869.7,438.7 L872.6,433.3 L875.2,427.7 L877.3,422.0 L879.1,416.2 L880.5,410.2 L881.6,404.2 L882.2,398.1 L882.5,392.0 L882.4,385.8 L881.8,379.7 L880.9,373.7 L879.6,367.7 L877.9,361.8 L875.9,356.0 L873.4,350.4 L870.7,345.0 L867.5,339.7" fill="none" stroke="#27437f" stroke-width="1.3"/><path d="M0,0 Q7,-6.8 17,0 Q7,6.8 0,0Z" transform="translate(861.7,450.5) rotate(-15.4) scale(1.0)" fill="#27437f"/><path d="M0,0 Q7,-6.8 17,0 Q7,6.8 0,0Z" transform="translate(861.7,450.5) rotate(-87.4) scale(1.0)" fill="#27437f"/><path d="M0,0 Q7,-6.8 17,0 Q7,6.8 0,0Z" transform="translate(869.4,439.3) rotate(-23.6) scale(1.0)" fill="#27437f"/><path d="M0,0 Q7,-6.8 17,0 Q7,6.8 0,0Z" transform="translate(869.4,439.3) rotate(-95.6) scale(1.0)" fill="#27437f"/><path d="M0,0 Q7,-6.8 17,0 Q7,6.8 0,0Z" transform="translate(875.4,427.1) rotate(-31.8) scale(1.0)" fill="#27437f"/><path d="M0,0 Q7,-6.8 17,0 Q7,6.8 0,0Z" transform="translate(875.4,427.1) rotate(-103.8) scale(1.0)" fill="#27437f"/><path d="M0,0 Q7,-6.8 17,0 Q7,6.8 0,0Z" transform="translate(879.6,414.2) rotate(-40.0) scale(1.0)" fill="#27437f"/><path d="M0,0 Q7,-6.8 17,0 Q7,6.8 0,0Z" transform="translate(879.6,414.2) rotate(-112.0) scale(1.0)" fill="#27437f"/><path d="M0,0 Q7,-6.8 17,0 Q7,6.8 0,0Z" transform="translate(882.0,400.8) rotate(-48.1) scale(1.0)" fill="#27437f"/><path d="M0,0 Q7,-6.8 17,0 Q7,6.8 0,0Z" transform="translate(882.0,400.8) rotate(-120.1) scale(1.0)" fill="#27437f"/><path d="M0,0 Q7,-6.8 17,0 Q7,6.8 0,0Z" transform="translate(882.4,387.2) rotate(-56.3) scale(1.0)" fill="#27437f"/><path d="M0,0 Q7,-6.8 17,0 Q7,6.8 0,0Z" transform="translate(882.4,387.2) rotate(-128.3) scale(1.0)" fill="#27437f"/><path d="M0,0 Q7,-6.8 17,0 Q7,6.8 0,0Z" transform="translate(880.9,373.7) rotate(-64.5) scale(1.0)" fill="#27437f"/><path d="M0,0 Q7,-6.8 17,0 Q7,6.8 0,0Z" transform="translate(880.9,373.7) rotate(-136.5) scale(1.0)" fill="#27437f"/><path d="M0,0 Q7,-6.8 17,0 Q7,6.8 0,0Z" transform="translate(877.5,360.5) rotate(-72.6) scale(1.0)" fill="#27437f"/><path d="M0,0 Q7,-6.8 17,0 Q7,6.8 0,0Z" transform="translate(877.5,360.5) rotate(-144.6) scale(1.0)" fill="#27437f"/><path d="M0,0 Q7,-6.8 17,0 Q7,6.8 0,0Z" transform="translate(872.3,348.0) rotate(-80.8) scale(1.0)" fill="#27437f"/><path d="M0,0 Q7,-6.8 17,0 Q7,6.8 0,0Z" transform="translate(872.3,348.0) rotate(-152.8) scale(1.0)" fill="#27437f"/><path d="M0,0 Q7,-6.8 17,0 Q7,6.8 0,0Z" transform="translate(867.5,339.7) rotate(-122.5) scale(1.0)" fill="#27437f"/><path d="M717.2,456.1 L713.1,451.5 L709.3,446.6 L705.9,441.5 L702.8,436.1 L700.1,430.6 L697.7,424.9 L695.7,419.1 L694.1,413.1 L692.9,407.1 L692.0,401.0 L691.6,394.8 L691.5,388.7 L691.9,382.5 L692.6,376.4 L693.8,370.3 L695.3,364.4 L697.2,358.5 L699.5,352.8 L702.1,347.2 L705.1,341.8" fill="none" stroke="#27437f" stroke-width="1.3"/><path d="M0,0 Q7,-6.8 17,0 Q7,6.8 0,0Z" transform="translate(714.4,453.1) rotate(-166.5) scale(1.0)" fill="#27437f"/><path d="M0,0 Q7,-6.8 17,0 Q7,6.8 0,0Z" transform="translate(714.4,453.1) rotate(-94.5) scale(1.0)" fill="#27437f"/><path d="M0,0 Q7,-6.8 17,0 Q7,6.8 0,0Z" transform="translate(706.3,442.0) rotate(-158.3) scale(1.0)" fill="#27437f"/><path d="M0,0 Q7,-6.8 17,0 Q7,6.8 0,0Z" transform="translate(706.3,442.0) rotate(-86.3) scale(1.0)" fill="#27437f"/><path d="M0,0 Q7,-6.8 17,0 Q7,6.8 0,0Z" transform="translate(699.8,430.0) rotate(-150.1) scale(1.0)" fill="#27437f"/><path d="M0,0 Q7,-6.8 17,0 Q7,6.8 0,0Z" transform="translate(699.8,430.0) rotate(-78.1) scale(1.0)" fill="#27437f"/><path d="M0,0 Q7,-6.8 17,0 Q7,6.8 0,0Z" transform="translate(695.1,417.1) rotate(-141.9) scale(1.0)" fill="#27437f"/><path d="M0,0 Q7,-6.8 17,0 Q7,6.8 0,0Z" transform="translate(695.1,417.1) rotate(-69.9) scale(1.0)" fill="#27437f"/><path d="M0,0 Q7,-6.8 17,0 Q7,6.8 0,0Z" transform="translate(692.3,403.7) rotate(-133.6) scale(1.0)" fill="#27437f"/><path d="M0,0 Q7,-6.8 17,0 Q7,6.8 0,0Z" transform="translate(692.3,403.7) rotate(-61.6) scale(1.0)" fill="#27437f"/><path d="M0,0 Q7,-6.8 17,0 Q7,6.8 0,0Z" transform="translate(691.5,390.0) rotate(-125.4) scale(1.0)" fill="#27437f"/><path d="M0,0 Q7,-6.8 17,0 Q7,6.8 0,0Z" transform="translate(691.5,390.0) rotate(-53.4) scale(1.0)" fill="#27437f"/><path d="M0,0 Q7,-6.8 17,0 Q7,6.8 0,0Z" transform="translate(692.6,376.4) rotate(-117.2) scale(1.0)" fill="#27437f"/><path d="M0,0 Q7,-6.8 17,0 Q7,6.8 0,0Z" transform="translate(692.6,376.4) rotate(-45.2) scale(1.0)" fill="#27437f"/><path d="M0,0 Q7,-6.8 17,0 Q7,6.8 0,0Z" transform="translate(695.7,363.0) rotate(-109.0) scale(1.0)" fill="#27437f"/><path d="M0,0 Q7,-6.8 17,0 Q7,6.8 0,0Z" transform="translate(695.7,363.0) rotate(-37.0) scale(1.0)" fill="#27437f"/><path d="M0,0 Q7,-6.8 17,0 Q7,6.8 0,0Z" transform="translate(700.6,350.3) rotate(-100.8) scale(1.0)" fill="#27437f"/><path d="M0,0 Q7,-6.8 17,0 Q7,6.8 0,0Z" transform="translate(700.6,350.3) rotate(-28.8) scale(1.0)" fill="#27437f"/><path d="M0,0 Q7,-6.8 17,0 Q7,6.8 0,0Z" transform="translate(705.1,341.8) rotate(-59.0) scale(1.0)" fill="#27437f"/><path d="M626.1,424 L657,398.2 L705.7,446.7  C709.4,442.4 719.0,432.6 728.0,421.0 C737.0,409.4 747.2,391.6 760.0,377.0 C772.8,362.4 789.2,348.1 804.8,333.7 C820.4,319.3 839.9,301.0 853.6,290.4 C867.3,279.8 875.9,275.1 887.2,270.2 C898.5,265.2 915.9,262.3 921.6,260.7 C917.7,263.4 906.0,271.4 898.4,277.0 C890.8,282.6 884.4,285.8 876.0,294.5 C867.6,303.2 856.1,319.2 848.0,329.5 C839.9,339.8 839.4,340.6 827.2,356.0 C815.0,371.4 790.4,401.0 775.0,422.0 C759.6,443.0 746.0,465.6 735.0,482.0 C724.0,498.4 713.6,513.9 709.3,520.3 Z" fill="#3e9f49" stroke="#ffffff" stroke-width="11" stroke-linejoin="round" paint-order="stroke"/><path d="M626.1,424 L657,398.2 L705.7,446.7  C709.4,442.4 719.0,432.6 728.0,421.0 C737.0,409.4 747.2,391.6 760.0,377.0 C772.8,362.4 789.2,348.1 804.8,333.7 C820.4,319.3 839.9,301.0 853.6,290.4 C867.3,279.8 875.9,275.1 887.2,270.2 C898.5,265.2 915.9,262.3 921.6,260.7 C917.7,263.4 906.0,271.4 898.4,277.0 C890.8,282.6 884.4,285.8 876.0,294.5 C867.6,303.2 856.1,319.2 848.0,329.5 C839.9,339.8 839.4,340.6 827.2,356.0 C815.0,371.4 790.4,401.0 775.0,422.0 C759.6,443.0 746.0,465.6 735.0,482.0 C724.0,498.4 713.6,513.9 709.3,520.3 Z" fill="none" stroke="#2f8a3c" stroke-width="0.8"/>
<text x="594.2" y="573" font-size="34.41" font-weight="400" textLength="382.4" lengthAdjust="spacingAndGlyphs" fill="#1e1e1e" stroke="#1e1e1e" stroke-width="0.9">Status: Valid Certification.</text>
<text x="565.7" y="609.3" font-size="30.76" font-weight="400" textLength="440.3" lengthAdjust="spacingAndGlyphs" fill="#1e1e1e" stroke="#1e1e1e" stroke-width="0.9">Meets Established Standards.</text>
<path d="M345,683 L728.5,683 L728.5,812 L825,812 L536,984 L247.5,812 L345,812 Z" fill="url(#gArrow)" stroke="#c86a2c" stroke-opacity="0.6" stroke-width="2"/>
<text x="374.1" y="760.8" font-size="39.42" font-weight="700" textLength="324.9" lengthAdjust="spacingAndGlyphs" fill="#fbf6ef" >CUSTOMIZATION</text>
<text x="440.7" y="805.5" font-size="38.84" font-weight="700" textLength="193.3" lengthAdjust="spacingAndGlyphs" fill="#fbf6ef" >REQUEST:</text>
<text x="380.4" y="850" font-size="40.87" font-weight="700" textLength="311.6" lengthAdjust="spacingAndGlyphs" fill="#fbf6ef" >Increase strength</text>
<g clip-path="url(#cBot)"><rect x="36" y="1009" width="1001" height="848" fill="#ffffff"/><rect x="36" y="1009" width="1001" height="67" fill="#e2642a"/><rect x="36" y="1074" width="1001" height="2.5" fill="#c95523"/></g>
<rect x="37.5" y="1010.5" width="998" height="845" rx="16.5" fill="none" stroke="#d8652b" stroke-width="3"/>
<text x="328.7" y="1057.8" font-size="38.25" font-weight="700" textLength="415.2" lengthAdjust="spacingAndGlyphs" fill="#ffffff" >MODIFIED FORMULA</text>
<path d="M301,1310.5 L181.7,1474.7 A203,203 0 0 1 301,1107.5 Z" fill="#ef8c2b" stroke="#d9762a" stroke-width="1"/>
<path d="M301,1310.5 L301,1107.5 A203,203 0 0 1 469.3,1197 Z" fill="#df3c25" stroke="#c63220" stroke-width="1"/>
<path d="M301,1310.5 L469.3,1197 A203,203 0 0 1 181.7,1474.7 Z" fill="#e2652b" stroke="#c9561f" stroke-width="1"/>
<line x1="301" y1="1310.5" x2="301" y2="1104.5" stroke="#ffffff" stroke-width="5.6"/>
<line x1="301" y1="1310.5" x2="471.8" y2="1195.3" stroke="#ffffff" stroke-width="5.5"/>
<line x1="301" y1="1310.5" x2="179.9" y2="1477.2" stroke="#ffffff" stroke-width="5.5"/>
<text x="330.3" y="1186.2" font-size="47.17" font-weight="700" textLength="82.7" lengthAdjust="spacingAndGlyphs" fill="#fbf3ee" >15%</text>
<text x="310.3" y="1214.2" font-size="23.17" font-weight="700" textLength="125.4" lengthAdjust="spacingAndGlyphs" fill="#fbf3ee" >Cornstarch</text>
<text x="147.1" y="1276.5" font-size="45.73" font-weight="700" textLength="96.6" lengthAdjust="spacingAndGlyphs" fill="#fbf3ee" >40%</text>
<text x="164.8" y="1310.6" font-size="28.51" font-weight="700" textLength="61.1" lengthAdjust="spacingAndGlyphs" fill="#fbf3ee" >PLA</text>
<text x="327.3" y="1373.4" font-size="45.16" font-weight="700" textLength="93.5" lengthAdjust="spacingAndGlyphs" fill="#fbf3ee" >45%</text>
<text x="310.5" y="1408.4" font-size="29.93" font-weight="700" textLength="127.1" lengthAdjust="spacingAndGlyphs" fill="#fbf3ee" >Bamboo</text>
<text x="335" y="1438.4" font-size="30.90" font-weight="700" textLength="77.4" lengthAdjust="spacingAndGlyphs" fill="#fbf3ee" >Fiber</text>
<path d="M783.5,1118.7 L784.6,1118.1 L785.8,1117.5 L786.9,1116.9 L788.1,1116.4 L789.3,1115.9 L790.4,1115.5 L791.6,1115.2 L792.8,1115.0 L794.0,1114.9 L795.1,1114.9 L796.3,1115.0 L797.5,1115.2 L798.6,1115.5 L799.7,1115.9 L800.8,1116.4 L801.9,1117.0 L803.0,1117.7 L804.0,1118.4 L805.1,1119.1 L806.1,1119.9 L807.1,1120.8 L808.1,1121.6 L809.0,1122.4 L810.0,1123.2 L811.0,1124.0 L812.0,1124.8 L812.9,1125.5 L813.9,1126.1 L814.9,1126.6 L815.9,1127.1 L816.9,1127.5 L818.0,1127.8 L819.0,1128.1 L820.1,1128.2 L821.2,1128.3 L822.4,1128.3 L823.6,1128.3 L824.8,1128.2 L826.0,1128.1 L827.2,1127.9 L828.5,1127.7 L829.8,1127.5 L831.0,1127.3 L832.3,1127.2 L833.6,1127.0 L834.9,1126.9 L836.1,1126.9 L837.4,1127.0 L838.6,1127.1 L839.8,1127.3 L840.9,1127.6 L842.0,1128.0 L843.1,1128.4 L844.1,1129.0 L845.1,1129.7 L846.0,1130.4 L846.9,1131.3 L847.7,1132.2 L848.5,1133.1 L849.2,1134.2 L849.9,1135.2 L850.6,1136.3 L851.2,1137.5 L851.9,1138.6 L852.5,1139.7 L853.1,1140.9 L853.7,1141.9 L854.3,1143.0 L855.0,1144.0 L855.6,1145.0 L856.4,1145.9 L857.1,1146.7 L857.9,1147.5 L858.7,1148.2 L859.6,1148.8 L860.6,1149.4 L861.6,1149.9 L862.6,1150.3 L863.7,1150.7 L864.8,1151.1 L866.0,1151.4 L867.2,1151.7 L868.5,1152.0 L869.7,1152.2 L871.0,1152.5 L872.2,1152.8 L873.5,1153.2 L874.7,1153.5 L875.9,1154.0 L877.1,1154.4 L878.2,1154.9 L879.2,1155.5 L880.2,1156.2 L881.2,1156.9 L882.0,1157.7 L882.8,1158.6 L883.5,1159.6 L884.1,1160.6 L884.6,1161.6 L885.1,1162.8 L885.5,1163.9 L885.8,1165.2 L886.1,1166.4 L886.3,1167.7 L886.5,1168.9 L886.7,1170.2 L886.9,1171.5 L887.0,1172.8 L887.2,1174.0 L887.4,1175.3 L887.6,1176.4 L887.9,1177.6 L888.2,1178.7 L888.6,1179.8 L889.0,1180.8 L889.5,1181.8 L890.1,1182.7 L890.7,1183.6 L891.5,1184.4 L892.3,1185.2 L893.1,1186.0 L894.0,1186.7 L895.0,1187.5 L896.0,1188.2 L897.0,1188.9 L898.1,1189.6 L899.2,1190.3 L900.3,1191.1 L901.3,1191.8 L902.3,1192.6 L903.3,1193.4 L904.2,1194.2 L905.1,1195.1 L905.9,1196.0 L906.6,1197.0 L907.3,1198.0 L907.8,1199.0 L908.2,1200.1 L908.6,1201.2 L908.8,1202.4 L908.9,1203.6 L909.0,1204.8 L909.0,1206.0 L908.9,1207.3 L908.7,1208.5 L908.5,1209.8 L908.2,1211.1 L907.9,1212.3 L907.6,1213.6 L907.3,1214.8 L907.0,1216.1 L906.7,1217.3 L906.5,1218.5 L906.3,1219.6 L906.2,1220.8 L906.1,1221.9 L906.1,1223.0 L906.2,1224.1 L906.4,1225.2 L906.7,1226.3 L907.0,1227.3 L907.4,1228.4 L907.9,1229.4 L908.5,1230.4 L909.1,1231.5 L909.8,1232.5 L910.5,1233.5 L911.2,1234.6 L911.9,1235.6 L912.7,1236.7 L913.4,1237.8 L914.1,1238.9 L914.7,1240.0 L915.3,1241.1 L915.8,1242.2 L916.3,1243.4 L916.6,1244.5 L916.9,1245.7 L917.0,1246.8 L917.1,1248.0 L917.0,1249.2 L916.9,1250.3 L916.6,1251.5 L916.3,1252.6 L915.8,1253.8 L915.3,1254.9 L914.7,1256.0 L914.1,1257.1 L913.4,1258.2 L912.7,1259.3 L911.9,1260.4 L911.2,1261.4 L910.5,1262.5 L909.8,1263.5 L909.1,1264.5 L908.5,1265.6 L907.9,1266.6 L907.4,1267.6 L907.0,1268.7 L906.7,1269.7 L906.4,1270.8 L906.2,1271.9 L906.1,1273.0 L906.1,1274.1 L906.2,1275.2 L906.3,1276.4 L906.5,1277.5 L906.7,1278.7 L907.0,1279.9 L907.3,1281.2 L907.6,1282.4 L907.9,1283.7 L908.2,1284.9 L908.5,1286.2 L908.7,1287.5 L908.9,1288.7 L909.0,1290.0 L909.0,1291.2 L908.9,1292.4 L908.8,1293.6 L908.6,1294.8 L908.2,1295.9 L907.8,1297.0 L907.3,1298.0 L906.6,1299.0 L905.9,1300.0 L905.1,1300.9 L904.2,1301.8 L903.3,1302.6 L902.3,1303.4 L901.3,1304.2 L900.3,1304.9 L899.2,1305.7 L898.1,1306.4 L897.0,1307.1 L896.0,1307.8 L895.0,1308.5 L894.0,1309.3 L893.1,1310.0 L892.3,1310.8 L891.5,1311.6 L890.7,1312.4 L890.1,1313.3 L889.5,1314.2 L889.0,1315.2 L888.6,1316.2 L888.2,1317.3 L887.9,1318.4 L887.6,1319.6 L887.4,1320.7 L887.2,1322.0 L887.0,1323.2 L886.9,1324.5 L886.7,1325.8 L886.5,1327.1 L886.3,1328.3 L886.1,1329.6 L885.8,1330.8 L885.5,1332.1 L885.1,1333.2 L884.6,1334.4 L884.1,1335.4 L883.5,1336.4 L882.8,1337.4 L882.0,1338.3 L881.2,1339.1 L880.2,1339.8 L879.2,1340.5 L878.2,1341.1 L877.1,1341.6 L875.9,1342.0 L874.7,1342.5 L873.5,1342.8 L872.2,1343.2 L871.0,1343.5 L869.7,1343.8 L868.5,1344.0 L867.2,1344.3 L866.0,1344.6 L864.8,1344.9 L863.7,1345.3 L862.6,1345.7 L861.6,1346.1 L860.6,1346.6 L859.6,1347.2 L858.7,1347.8 L857.9,1348.5 L857.1,1349.3 L856.4,1350.1 L855.6,1351.0 L855.0,1352.0 L854.3,1353.0 L853.7,1354.1 L853.1,1355.1 L852.5,1356.3 L851.9,1357.4 L851.2,1358.5 L850.6,1359.7 L849.9,1360.8 L849.2,1361.8 L848.5,1362.9 L847.7,1363.8 L846.9,1364.7 L846.0,1365.6 L845.1,1366.3 L844.1,1367.0 L843.1,1367.6 L842.0,1368.0 L840.9,1368.4 L839.8,1368.7 L838.6,1368.9 L837.4,1369.0 L836.1,1369.1 L834.9,1369.1 L833.6,1369.0 L832.3,1368.8 L831.0,1368.7 L829.8,1368.5 L828.5,1368.3 L827.2,1368.1 L826.0,1367.9 L824.8,1367.8 L823.6,1367.7 L822.4,1367.7 L821.2,1367.7 L820.1,1367.8 L819.0,1367.9 L818.0,1368.2 L816.9,1368.5 L815.9,1368.9 L814.9,1369.4 L813.9,1369.9 L812.9,1370.5 L812.0,1371.2 L811.0,1372.0 L810.0,1372.8 L809.0,1373.6 L808.1,1374.4 L807.1,1375.2 L806.1,1376.1 L805.1,1376.9 L804.0,1377.6 L803.0,1378.3 L801.9,1379.0 L800.8,1379.6 L799.7,1380.1 L798.6,1380.5 L797.5,1380.8 L796.3,1381.0 L795.1,1381.1 L794.0,1381.1 L792.8,1381.0 L791.6,1380.8 L790.4,1380.5 L789.3,1380.1 L788.1,1379.6 L786.9,1379.1 L785.8,1378.5 L784.6,1377.9 L783.5,1377.3 L782.4,1376.7 L781.3,1376.0 L780.2,1375.4 L779.1,1374.8 L778.0,1374.3 L776.9,1373.8 L775.8,1373.4 L774.8,1373.0 L773.7,1372.7 L772.6,1372.5 L771.5,1372.4 L770.4,1372.4 L769.3,1372.5 L768.2,1372.6 L767.1,1372.8 L765.9,1373.1 L764.8,1373.4 L763.6,1373.8 L762.4,1374.2 L761.2,1374.6 L760.0,1375.0 L758.7,1375.4 L757.5,1375.8 L756.3,1376.2 L755.0,1376.5 L753.8,1376.7 L752.6,1376.9 L751.3,1377.0 L750.1,1377.0 L749.0,1376.9 L747.8,1376.7 L746.7,1376.4 L745.6,1376.0 L744.5,1375.5 L743.5,1375.0 L742.5,1374.3 L741.5,1373.5 L740.6,1372.7 L739.7,1371.8 L738.8,1370.9 L737.9,1369.9 L737.1,1368.9 L736.3,1367.9 L735.5,1366.9 L734.6,1365.9 L733.8,1365.0 L733.0,1364.1 L732.2,1363.2 L731.4,1362.4 L730.5,1361.7 L729.6,1361.0 L728.7,1360.4 L727.7,1359.9 L726.7,1359.4 L725.7,1359.1 L724.6,1358.8 L723.5,1358.5 L722.3,1358.3 L721.1,1358.2 L719.9,1358.1 L718.7,1358.1 L717.4,1358.0 L716.1,1358.0 L714.8,1357.9 L713.5,1357.8 L712.2,1357.7 L711.0,1357.6 L709.7,1357.4 L708.5,1357.1 L707.3,1356.8 L706.2,1356.4 L705.1,1355.9 L704.1,1355.3 L703.1,1354.7 L702.2,1354.0 L701.4,1353.1 L700.6,1352.3 L699.9,1351.3 L699.2,1350.3 L698.6,1349.2 L698.1,1348.0 L697.6,1346.9 L697.1,1345.6 L696.7,1344.4 L696.3,1343.2 L695.9,1342.0 L695.5,1340.7 L695.1,1339.6 L694.7,1338.4 L694.2,1337.3 L693.7,1336.2 L693.2,1335.2 L692.6,1334.2 L692.0,1333.3 L691.3,1332.5 L690.6,1331.7 L689.8,1330.9 L688.9,1330.2 L688.0,1329.6 L687.0,1329.0 L685.9,1328.4 L684.8,1327.9 L683.7,1327.4 L682.5,1326.9 L681.4,1326.4 L680.2,1325.9 L679.0,1325.3 L677.8,1324.8 L676.7,1324.2 L675.6,1323.6 L674.5,1322.9 L673.5,1322.2 L672.6,1321.4 L671.7,1320.6 L670.9,1319.7 L670.2,1318.8 L669.6,1317.8 L669.1,1316.8 L668.6,1315.7 L668.3,1314.5 L668.0,1313.3 L667.8,1312.1 L667.7,1310.9 L667.7,1309.6 L667.7,1308.3 L667.7,1307.0 L667.8,1305.7 L667.8,1304.4 L667.9,1303.1 L668.0,1301.9 L668.0,1300.6 L668.0,1299.4 L668.0,1298.2 L667.9,1297.1 L667.7,1296.0 L667.5,1294.9 L667.2,1293.8 L666.8,1292.8 L666.3,1291.8 L665.8,1290.8 L665.2,1289.9 L664.5,1289.0 L663.7,1288.1 L662.9,1287.2 L662.1,1286.3 L661.2,1285.4 L660.3,1284.5 L659.4,1283.6 L658.4,1282.7 L657.5,1281.8 L656.7,1280.8 L655.8,1279.8 L655.1,1278.8 L654.4,1277.8 L653.7,1276.8 L653.2,1275.7 L652.7,1274.6 L652.4,1273.5 L652.1,1272.3 L652.0,1271.2 L652.0,1270.0 L652.0,1268.8 L652.2,1267.6 L652.4,1266.4 L652.7,1265.2 L653.1,1264.0 L653.5,1262.8 L654.0,1261.6 L654.5,1260.4 L655.1,1259.2 L655.6,1258.1 L656.1,1256.9 L656.6,1255.8 L657.1,1254.6 L657.5,1253.5 L657.8,1252.4 L658.1,1251.3 L658.3,1250.2 L658.5,1249.1 L658.5,1248.0 L658.5,1246.9 L658.3,1245.8 L658.1,1244.7 L657.8,1243.6 L657.5,1242.5 L657.1,1241.4 L656.6,1240.2 L656.1,1239.1 L655.6,1237.9 L655.1,1236.8 L654.5,1235.6 L654.0,1234.4 L653.5,1233.2 L653.1,1232.0 L652.7,1230.8 L652.4,1229.6 L652.2,1228.4 L652.0,1227.2 L652.0,1226.0 L652.0,1224.8 L652.1,1223.7 L652.4,1222.5 L652.7,1221.4 L653.2,1220.3 L653.7,1219.2 L654.4,1218.2 L655.1,1217.2 L655.8,1216.2 L656.7,1215.2 L657.5,1214.2 L658.4,1213.3 L659.4,1212.4 L660.3,1211.5 L661.2,1210.6 L662.1,1209.7 L662.9,1208.8 L663.7,1207.9 L664.5,1207.0 L665.2,1206.1 L665.8,1205.2 L666.3,1204.2 L666.8,1203.2 L667.2,1202.2 L667.5,1201.1 L667.7,1200.0 L667.9,1198.9 L668.0,1197.8 L668.0,1196.6 L668.0,1195.4 L668.0,1194.1 L667.9,1192.9 L667.8,1191.6 L667.8,1190.3 L667.7,1189.0 L667.7,1187.7 L667.7,1186.4 L667.7,1185.1 L667.8,1183.9 L668.0,1182.7 L668.3,1181.5 L668.6,1180.3 L669.1,1179.2 L669.6,1178.2 L670.2,1177.2 L670.9,1176.3 L671.7,1175.4 L672.6,1174.6 L673.5,1173.8 L674.5,1173.1 L675.6,1172.4 L676.7,1171.8 L677.8,1171.2 L679.0,1170.7 L680.2,1170.1 L681.4,1169.6 L682.5,1169.1 L683.7,1168.6 L684.8,1168.1 L685.9,1167.6 L687.0,1167.0 L688.0,1166.4 L688.9,1165.8 L689.8,1165.1 L690.6,1164.3 L691.3,1163.5 L692.0,1162.7 L692.6,1161.8 L693.2,1160.8 L693.7,1159.8 L694.2,1158.7 L694.7,1157.6 L695.1,1156.4 L695.5,1155.3 L695.9,1154.0 L696.3,1152.8 L696.7,1151.6 L697.1,1150.4 L697.6,1149.1 L698.1,1148.0 L698.6,1146.8 L699.2,1145.7 L699.9,1144.7 L700.6,1143.7 L701.4,1142.9 L702.2,1142.0 L703.1,1141.3 L704.1,1140.7 L705.1,1140.1 L706.2,1139.6 L707.3,1139.2 L708.5,1138.9 L709.7,1138.6 L711.0,1138.4 L712.2,1138.3 L713.5,1138.2 L714.8,1138.1 L716.1,1138.0 L717.4,1138.0 L718.7,1137.9 L719.9,1137.9 L721.1,1137.8 L722.3,1137.7 L723.5,1137.5 L724.6,1137.2 L725.7,1136.9 L726.7,1136.6 L727.7,1136.1 L728.7,1135.6 L729.6,1135.0 L730.5,1134.3 L731.4,1133.6 L732.2,1132.8 L733.0,1131.9 L733.8,1131.0 L734.6,1130.1 L735.5,1129.1 L736.3,1128.1 L737.1,1127.1 L737.9,1126.1 L738.8,1125.1 L739.7,1124.2 L740.6,1123.3 L741.5,1122.5 L742.5,1121.7 L743.5,1121.0 L744.5,1120.5 L745.6,1120.0 L746.7,1119.6 L747.8,1119.3 L749.0,1119.1 L750.1,1119.0 L751.3,1119.0 L752.6,1119.1 L753.8,1119.3 L755.0,1119.5 L756.3,1119.8 L757.5,1120.2 L758.7,1120.6 L760.0,1121.0 L761.2,1121.4 L762.4,1121.8 L763.6,1122.2 L764.8,1122.6 L765.9,1122.9 L767.1,1123.2 L768.2,1123.4 L769.3,1123.5 L770.4,1123.6 L771.5,1123.6 L772.6,1123.5 L773.7,1123.3 L774.8,1123.0 L775.8,1122.6 L776.9,1122.2 L778.0,1121.7 L779.1,1121.2 L780.2,1120.6 L781.3,1120.0 L782.4,1119.3Z" fill="#e8702c"/><circle cx="783.5" cy="1248" r="114" fill="#ffffff"/><circle cx="784" cy="1251" r="77" fill="#e8702c"/><circle cx="784" cy="1251" r="57" fill="#ffffff"/><path d="M744,1166 L782,1163 L770,1191 L746,1190 Z" fill="#e8702c"/><path d="M790,1168 L821,1170 L812,1192 L786,1190 Z" fill="#e8702c"/><path d="M756,1328 L782,1306 L810,1328 Z" fill="#e8702c"/><path id="arcTop2" d="M696.5,1248 A87,87 0 0 1 870.5,1248" fill="none"/><text font-size="25" font-weight="700" fill="#e8702c" stroke="#e8702c" stroke-width="0.7" letter-spacing="0.6"><textPath href="#arcTop2" startOffset="46%" text-anchor="middle">CERTIFICATE</textPath></text><path d="M778,1106 L810,1106 L798,1140 L794,1162 L792,1194 L785,1194 L771,1162 L775,1140 Z" fill="#ffffff"/><path id="arcBot2" d="M677.5,1248 A106,106 0 0 0 889.5,1248" fill="none"/><text font-size="25" font-weight="700" fill="#e8702c" stroke="#e8702c" stroke-width="0.7" letter-spacing="1.2"><textPath href="#arcBot2" startOffset="50%" text-anchor="middle">INVALID</textPath></text><path d="M851.0,1315.5 L855.6,1310.7 L859.8,1305.5 L863.6,1300.0 L867.0,1294.3 L870.1,1288.4 L872.7,1282.2 L874.8,1275.9 L876.6,1269.5 L877.8,1262.9 L878.6,1256.3 L879.0,1249.7 L878.9,1243.0 L878.3,1236.4 L877.2,1229.8 L875.7,1223.3 L873.8,1216.9 L871.4,1210.7 L868.6,1204.6 L865.4,1198.8 L861.7,1193.2" fill="none" stroke="#e8702c" stroke-width="1.3"/><path d="M0,0 Q7,-6.8 17,0 Q7,6.8 0,0Z" transform="translate(854.1,1312.3) rotate(-11.7) scale(1.0)" fill="#e8702c"/><path d="M0,0 Q7,-6.8 17,0 Q7,6.8 0,0Z" transform="translate(854.1,1312.3) rotate(-83.7) scale(1.0)" fill="#e8702c"/><path d="M0,0 Q7,-6.8 17,0 Q7,6.8 0,0Z" transform="translate(863.2,1300.6) rotate(-20.6) scale(1.0)" fill="#e8702c"/><path d="M0,0 Q7,-6.8 17,0 Q7,6.8 0,0Z" transform="translate(863.2,1300.6) rotate(-92.6) scale(1.0)" fill="#e8702c"/><path d="M0,0 Q7,-6.8 17,0 Q7,6.8 0,0Z" transform="translate(870.4,1287.7) rotate(-29.4) scale(1.0)" fill="#e8702c"/><path d="M0,0 Q7,-6.8 17,0 Q7,6.8 0,0Z" transform="translate(870.4,1287.7) rotate(-101.4) scale(1.0)" fill="#e8702c"/><path d="M0,0 Q7,-6.8 17,0 Q7,6.8 0,0Z" transform="translate(875.5,1273.8) rotate(-38.3) scale(1.0)" fill="#e8702c"/><path d="M0,0 Q7,-6.8 17,0 Q7,6.8 0,0Z" transform="translate(875.5,1273.8) rotate(-110.3) scale(1.0)" fill="#e8702c"/><path d="M0,0 Q7,-6.8 17,0 Q7,6.8 0,0Z" transform="translate(878.3,1259.3) rotate(-47.2) scale(1.0)" fill="#e8702c"/><path d="M0,0 Q7,-6.8 17,0 Q7,6.8 0,0Z" transform="translate(878.3,1259.3) rotate(-119.2) scale(1.0)" fill="#e8702c"/><path d="M0,0 Q7,-6.8 17,0 Q7,6.8 0,0Z" transform="translate(878.9,1244.5) rotate(-56.1) scale(1.0)" fill="#e8702c"/><path d="M0,0 Q7,-6.8 17,0 Q7,6.8 0,0Z" transform="translate(878.9,1244.5) rotate(-128.1) scale(1.0)" fill="#e8702c"/><path d="M0,0 Q7,-6.8 17,0 Q7,6.8 0,0Z" transform="translate(877.2,1229.8) rotate(-65.0) scale(1.0)" fill="#e8702c"/><path d="M0,0 Q7,-6.8 17,0 Q7,6.8 0,0Z" transform="translate(877.2,1229.8) rotate(-137.0) scale(1.0)" fill="#e8702c"/><path d="M0,0 Q7,-6.8 17,0 Q7,6.8 0,0Z" transform="translate(873.3,1215.5) rotate(-73.9) scale(1.0)" fill="#e8702c"/><path d="M0,0 Q7,-6.8 17,0 Q7,6.8 0,0Z" transform="translate(873.3,1215.5) rotate(-145.9) scale(1.0)" fill="#e8702c"/><path d="M0,0 Q7,-6.8 17,0 Q7,6.8 0,0Z" transform="translate(867.2,1202.0) rotate(-82.8) scale(1.0)" fill="#e8702c"/><path d="M0,0 Q7,-6.8 17,0 Q7,6.8 0,0Z" transform="translate(867.2,1202.0) rotate(-154.8) scale(1.0)" fill="#e8702c"/><path d="M0,0 Q7,-6.8 17,0 Q7,6.8 0,0Z" transform="translate(861.7,1193.2) rotate(-125.0) scale(1.0)" fill="#e8702c"/><path d="M716.0,1315.5 L711.4,1310.7 L707.2,1305.5 L703.4,1300.0 L700.0,1294.3 L696.9,1288.4 L694.3,1282.2 L692.2,1275.9 L690.4,1269.5 L689.2,1262.9 L688.4,1256.3 L688.0,1249.7 L688.1,1243.0 L688.7,1236.4 L689.8,1229.8 L691.3,1223.3 L693.2,1216.9 L695.6,1210.7 L698.4,1204.6 L701.6,1198.8 L705.3,1193.2" fill="none" stroke="#e8702c" stroke-width="1.3"/><path d="M0,0 Q7,-6.8 17,0 Q7,6.8 0,0Z" transform="translate(712.9,1312.3) rotate(-168.3) scale(1.0)" fill="#e8702c"/><path d="M0,0 Q7,-6.8 17,0 Q7,6.8 0,0Z" transform="translate(712.9,1312.3) rotate(-96.3) scale(1.0)" fill="#e8702c"/><path d="M0,0 Q7,-6.8 17,0 Q7,6.8 0,0Z" transform="translate(703.8,1300.6) rotate(-159.4) scale(1.0)" fill="#e8702c"/><path d="M0,0 Q7,-6.8 17,0 Q7,6.8 0,0Z" transform="translate(703.8,1300.6) rotate(-87.4) scale(1.0)" fill="#e8702c"/><path d="M0,0 Q7,-6.8 17,0 Q7,6.8 0,0Z" transform="translate(696.6,1287.7) rotate(-150.6) scale(1.0)" fill="#e8702c"/><path d="M0,0 Q7,-6.8 17,0 Q7,6.8 0,0Z" transform="translate(696.6,1287.7) rotate(-78.6) scale(1.0)" fill="#e8702c"/><path d="M0,0 Q7,-6.8 17,0 Q7,6.8 0,0Z" transform="translate(691.5,1273.8) rotate(-141.7) scale(1.0)" fill="#e8702c"/><path d="M0,0 Q7,-6.8 17,0 Q7,6.8 0,0Z" transform="translate(691.5,1273.8) rotate(-69.7) scale(1.0)" fill="#e8702c"/><path d="M0,0 Q7,-6.8 17,0 Q7,6.8 0,0Z" transform="translate(688.7,1259.3) rotate(-132.8) scale(1.0)" fill="#e8702c"/><path d="M0,0 Q7,-6.8 17,0 Q7,6.8 0,0Z" transform="translate(688.7,1259.3) rotate(-60.8) scale(1.0)" fill="#e8702c"/><path d="M0,0 Q7,-6.8 17,0 Q7,6.8 0,0Z" transform="translate(688.1,1244.5) rotate(-123.9) scale(1.0)" fill="#e8702c"/><path d="M0,0 Q7,-6.8 17,0 Q7,6.8 0,0Z" transform="translate(688.1,1244.5) rotate(-51.9) scale(1.0)" fill="#e8702c"/><path d="M0,0 Q7,-6.8 17,0 Q7,6.8 0,0Z" transform="translate(689.8,1229.8) rotate(-115.0) scale(1.0)" fill="#e8702c"/><path d="M0,0 Q7,-6.8 17,0 Q7,6.8 0,0Z" transform="translate(689.8,1229.8) rotate(-43.0) scale(1.0)" fill="#e8702c"/><path d="M0,0 Q7,-6.8 17,0 Q7,6.8 0,0Z" transform="translate(693.7,1215.5) rotate(-106.1) scale(1.0)" fill="#e8702c"/><path d="M0,0 Q7,-6.8 17,0 Q7,6.8 0,0Z" transform="translate(693.7,1215.5) rotate(-34.1) scale(1.0)" fill="#e8702c"/><path d="M0,0 Q7,-6.8 17,0 Q7,6.8 0,0Z" transform="translate(699.8,1202.0) rotate(-97.2) scale(1.0)" fill="#e8702c"/><path d="M0,0 Q7,-6.8 17,0 Q7,6.8 0,0Z" transform="translate(699.8,1202.0) rotate(-25.2) scale(1.0)" fill="#e8702c"/><path d="M0,0 Q7,-6.8 17,0 Q7,6.8 0,0Z" transform="translate(705.3,1193.2) rotate(-55.0) scale(1.0)" fill="#e8702c"/><path d="M872.2,1135.2 L901.2,1164.2 L811.4,1254.0 L901.2,1343.8 L872.2,1372.8 L782.4,1283.0 L692.6,1372.8 L663.6,1343.8 L753.4,1254.0 L663.6,1164.2 L692.6,1135.2 L782.4,1225.0Z" fill="#d42a2a" stroke="#ffffff" stroke-width="13" stroke-linejoin="miter" paint-order="stroke"/><path d="M872.2,1135.2 L901.2,1164.2 L811.4,1254.0 L901.2,1343.8 L872.2,1372.8 L782.4,1283.0 L692.6,1372.8 L663.6,1343.8 L753.4,1254.0 L663.6,1164.2 L692.6,1135.2 L782.4,1225.0Z" fill="none" stroke="#b81e22" stroke-width="1"/>
<text x="574.3" y="1447.6" font-size="41.31" font-weight="700" textLength="411.6" lengthAdjust="spacingAndGlyphs" fill="#cf262c" >Requires Re-testing</text>
<text x="605.8" y="1494.3" font-size="41.31" font-weight="700" textLength="349.4" lengthAdjust="spacingAndGlyphs" fill="#cf262c" >&amp; Re-submission</text>
<rect x="66.5" y="1555.5" width="452" height="271" fill="none" stroke="#cfd0da" stroke-width="1.6"/><rect x="61" y="1550" width="62" height="10.5" fill="#d3222a"/><rect x="61" y="1550" width="10.5" height="62" fill="#d3222a"/><rect x="462" y="1550" width="62" height="10.5" fill="#d3222a"/><rect x="513.5" y="1550" width="10.5" height="62" fill="#d3222a"/><rect x="61" y="1821.5" width="62" height="10.5" fill="#d3222a"/><rect x="61" y="1770" width="10.5" height="62" fill="#d3222a"/><rect x="462" y="1821.5" width="62" height="10.5" fill="#d3222a"/><rect x="513.5" y="1770" width="10.5" height="62" fill="#d3222a"/>
<rect x="555.5" y="1555.5" width="452" height="271" fill="none" stroke="#cfd0da" stroke-width="1.6"/><rect x="550" y="1550" width="62" height="10.5" fill="#d3222a"/><rect x="550" y="1550" width="10.5" height="62" fill="#d3222a"/><rect x="951" y="1550" width="62" height="10.5" fill="#d3222a"/><rect x="1002.5" y="1550" width="10.5" height="62" fill="#d3222a"/><rect x="550" y="1821.5" width="62" height="10.5" fill="#d3222a"/><rect x="550" y="1770" width="10.5" height="62" fill="#d3222a"/><rect x="951" y="1821.5" width="62" height="10.5" fill="#d3222a"/><rect x="1002.5" y="1770" width="10.5" height="62" fill="#d3222a"/>
<circle cx="134.5" cy="1678.7" r="34.3" fill="#ffffff" stroke="#d42a2a" stroke-width="7"/><polyline points="135,1657 135,1681.5 149.5,1691.5" fill="none" stroke="#d42a2a" stroke-width="6" stroke-linecap="round" stroke-linejoin="round"/><path d="M183.7,1667 L361.5,1667 L361.5,1651 L401.7,1678.5 L361.5,1705.3 L361.5,1690 L183.7,1690 Z" fill="url(#gTime)"/><rect x="414.9" y="1648.2" width="72.8" height="68.6" rx="6" fill="#d42a2a"/><rect x="419.6" y="1666.4" width="63.4" height="45.7" rx="1.5" fill="#ffffff"/><rect x="425.5" y="1637.8" width="12" height="21" rx="6" fill="#ffffff"/><rect x="428" y="1640.3" width="7" height="16" rx="3.5" fill="#d42a2a"/><rect x="464.2" y="1637.8" width="12" height="21" rx="6" fill="#ffffff"/><rect x="466.7" y="1640.3" width="7" height="16" rx="3.5" fill="#d42a2a"/><rect x="440.1" y="1672.4" width="7.9" height="8" fill="#d42a2a"/><rect x="453.9" y="1672.4" width="7.9" height="8" fill="#d42a2a"/><rect x="467.4" y="1672.4" width="7.9" height="8" fill="#d42a2a"/><rect x="426.6" y="1685" width="7.9" height="8" fill="#d42a2a"/><rect x="440.1" y="1685" width="7.9" height="8" fill="#d42a2a"/><rect x="453.9" y="1685" width="7.9" height="8" fill="#d42a2a"/><rect x="467.4" y="1685" width="7.9" height="8" fill="#d42a2a"/><rect x="426.6" y="1698" width="7.9" height="8" fill="#d42a2a"/><rect x="440.1" y="1698" width="7.9" height="8" fill="#d42a2a"/><rect x="453.9" y="1698" width="7.9" height="8" fill="#d42a2a"/><circle cx="725.4" cy="1656" r="32" fill="#e8702c" stroke="#ffffff" stroke-width="7" paint-order="stroke"/><circle cx="725.4" cy="1656" r="32" fill="none" stroke="#d2601f" stroke-width="0.8"/><circle cx="712.6999999999999" cy="1656" r="32" fill="#e8702c" stroke="#ffffff" stroke-width="7" paint-order="stroke"/><circle cx="712.6999999999999" cy="1656" r="32" fill="none" stroke="#d2601f" stroke-width="0.8"/><circle cx="700.4" cy="1656" r="32" fill="#e8702c" stroke="#ffffff" stroke-width="7" paint-order="stroke"/><circle cx="700.4" cy="1656" r="32" fill="none" stroke="#d2601f" stroke-width="0.8"/><text x="700.2" y="1674.0" font-size="53.9" font-weight="700" fill="#ffffff" stroke="#ffffff" stroke-width="2" text-anchor="middle">$</text><path d="M782,1575.6 L808.9,1618.1 L793.9,1618.1 L793.9,1688.6 L770.8,1688.6 L770.8,1618.1 L755.1,1618.1 Z" fill="url(#gCost)" stroke="#1f2a5a" stroke-opacity="0.45" stroke-width="0.8"/><path d="M823.4,1603.1 L823.4,1673.2 A35.5,15.1 0 0 0 894.4,1673.2 L894.4,1603.1 Z" fill="#e8702c" stroke="#d2601f" stroke-width="0.8"/><path d="M824.0,1606.5 A34.9,15.1 0 0 0 893.8,1606.5" fill="none" stroke="#ffffff" stroke-width="4.2"/><path d="M824.0,1619.95 A34.9,15.1 0 0 0 893.8,1619.95" fill="none" stroke="#ffffff" stroke-width="4.2"/><path d="M824.0,1633.4 A34.9,15.1 0 0 0 893.8,1633.4" fill="none" stroke="#ffffff" stroke-width="4.2"/><path d="M824.0,1646.85 A34.9,15.1 0 0 0 893.8,1646.85" fill="none" stroke="#ffffff" stroke-width="4.2"/><path d="M824.0,1660.3 A34.9,15.1 0 0 0 893.8,1660.3" fill="none" stroke="#ffffff" stroke-width="4.2"/><ellipse cx="858.9" cy="1603.1" rx="35.5" ry="15.1" fill="#e8702c" stroke="#d2601f" stroke-width="0.8"/><text x="858.8" y="1614.1" font-size="31.8" font-weight="700" fill="#ffffff" stroke="#ffffff" stroke-width="1.3" text-anchor="middle">$</text>
<text x="123.5" y="1614.5" font-size="31.13" font-weight="700" textLength="339.9" lengthAdjust="spacingAndGlyphs" fill="#1b1b1b" >TIMELINE INDICATOR:</text>
<text x="190.2" y="1769.3" font-size="34.55" font-weight="700" textLength="204.3" lengthAdjust="spacingAndGlyphs" fill="#1b1b1b" >3-6 Months</text>
<text x="125.2" y="1805.6" font-size="31.03" font-weight="400" textLength="333.8" lengthAdjust="spacingAndGlyphs" fill="#1b1b1b" stroke="#1b1b1b" stroke-width="0.5">Re-certification Period</text>
<text x="645.7" y="1730" font-size="29.82" font-weight="700" textLength="274.3" lengthAdjust="spacingAndGlyphs" fill="#1b1b1b" >COST INDICATOR:</text>
<text x="636.8" y="1770.1" font-size="31.97" font-weight="700" textLength="290.8" lengthAdjust="spacingAndGlyphs" fill="#1b1b1b" >$5,000 - $15,000</text>
<text x="661.4" y="1804.5" font-size="30.40" font-weight="400" textLength="241.4" lengthAdjust="spacingAndGlyphs" fill="#1b1b1b" stroke="#1b1b1b" stroke-width="0.5">Per Certification</text>
<rect x="0" y="1868" width="1072" height="52" fill="#29406f"/>
<text x="223.6" y="1902.6" font-size="25.66" font-weight="400" textLength="354.2" lengthAdjust="spacingAndGlyphs" fill="#f2f2f2" >Quality Compliance Documentation</text>
<rect x="589" y="1884" width="1.8" height="23" fill="#f2f2f2"/>
<text x="604.7" y="1902.6" font-size="26.04" font-weight="400" textLength="99.0" lengthAdjust="spacingAndGlyphs" fill="#f2f2f2" >Version 2.1</text>
<rect x="716" y="1884" width="1.8" height="23" fill="#f2f2f2"/>
<text x="728.9" y="1902.6" font-size="25.66" font-weight="400" textLength="120.7" lengthAdjust="spacingAndGlyphs" fill="#f2f2f2" >Confidential</text></svg>
</body></html>
